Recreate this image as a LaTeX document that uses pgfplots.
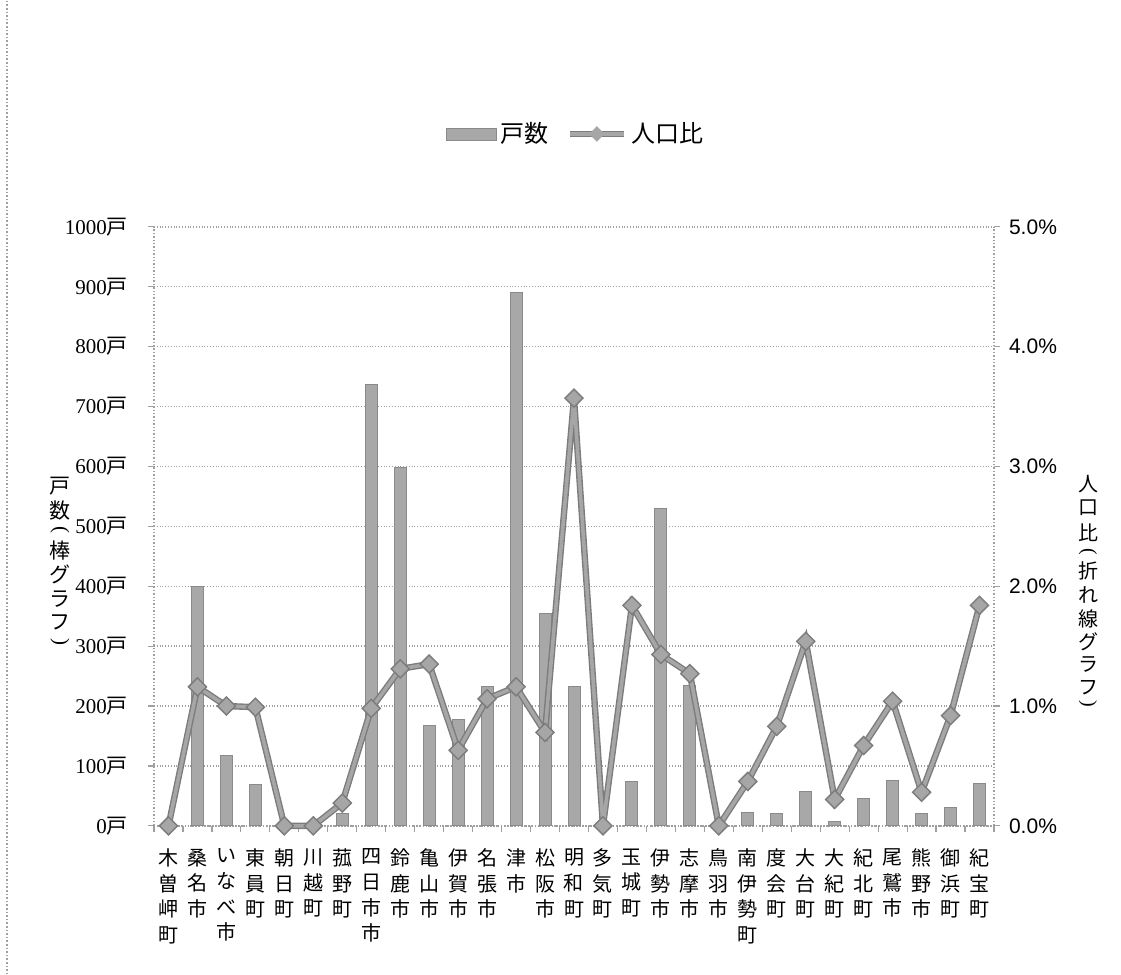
\documentclass[border=0pt]{standalone}
\usepackage{fontspec}
\usepackage{pgfplots}
\usepackage{pgfplotstable}
\pgfplotsset{compat=1.18}
\setmainfont{Liberation Serif}
\newfontfamily\cjk{Noto Sans CJK JP}
\newfontfamily\arial{Liberation Sans}
\definecolor{barfill}{HTML}{A8A8A8}
\definecolor{baredge}{HTML}{8A8A8A}
\definecolor{lineouter}{HTML}{7C7C7C}
\definecolor{lineinner}{HTML}{A6A6A6}
\definecolor{gridc}{HTML}{A0A0A0}
\pgfplotsset{
  barleg/.style={legend image code/.code={\fill[barfill, draw=baredge, line width=0.4pt] (0pt,-3pt) rectangle (25pt,3pt);}},
  lineleg/.style={legend image code/.code={\draw[lineouter, line width=3.2pt] (0pt,0pt) -- (27pt,0pt);
    \draw[mark repeat=2,mark phase=2,##1] plot coordinates {(0pt,0pt)(13.5pt,0pt)(27pt,0pt)};}},
}

\pgfplotstableread{
x bars pct
0 0 0
1 400 1.16
2 118 1.00
3 69 0.99
4 0 0
5 0 0
6 20 0.19
7 737 0.98
8 598 1.31
9 167 1.35
10 177 0.63
11 232 1.06
12 891 1.16
13 354 0.78
14 233 3.57
15 0 0
16 74 1.84
17 529 1.43
18 235 1.27
19 0 0
20 23 0.37
21 21 0.83
22 58 1.54
23 7 0.22
24 46 0.67
25 75 1.04
26 20 0.28
27 30 0.92
28 70 1.84
}\data

\begin{document}
\begin{tikzpicture}[x=1pt,y=1pt]
\path (0,0) rectangle (560.5,-486.5);
\draw[gridc, densely dotted, line width=0.8pt] (3.5,0) -- (3.5,-486.5);
\begin{axis}[
  at={(77pt,-412.5pt)}, anchor=south west,
  scale only axis, width=420pt, height=299.5pt,
  xmin=-0.5, xmax=28.5, ymin=0, ymax=1000,
  axis y line*=left, axis x line*=bottom,
  axis line style={gridc, densely dotted, line width=0.7pt},
  ytick={0,100,...,1000},
  ymajorgrids, major grid style={gridc, densely dotted, line width=0.7pt},
  major tick length=3pt, tick align=outside,
  tick style={gridc, line width=0.6pt},
  /pgf/number format/1000 sep={},
  yticklabel={\pgfmathprintnumber[assume math mode=true]{\tick}{\cjk 戸}},
  yticklabel style={font=\fontsize{10.5}{12}\selectfont, xshift=-6.5pt},
  xtick={0,...,28},
  x tick style={draw=none},
  minor xtick={-0.5,0.5,...,28.5},
  minor tick length=3pt,
  minor x tick style={draw=gridc, line width=0.6pt},
  xticklabels={{木\\曽\\岬\\町},{桑\\名\\市},{い\\な\\べ\\市},{東\\員\\町},{朝\\日\\町},{川\\越\\町},{菰\\野\\町},{四\\日\\市\\市},{鈴\\鹿\\市},{亀\\山\\市},{伊\\賀\\市},{名\\張\\市},{津\\市},{松\\阪\\市},{明\\和\\町},{多\\気\\町},{玉\\城\\町},{伊\\勢\\市},{志\\摩\\市},{鳥\\羽\\市},{南\\伊\\勢\\町},{度\\会\\町},{大\\台\\町},{大\\紀\\町},{紀\\北\\町},{尾\\鷲\\市},{熊\\野\\市},{御\\浜\\町},{紀\\宝\\町}},
  xticklabel style={font=\cjk\fontsize{10}{12.8}\selectfont, align=center, anchor=north, yshift=-5pt},
]
\addplot[ybar, bar width=6pt, fill=barfill, draw=baredge, line width=0.5pt] table[x=x,y=bars]{\data};
\end{axis}
\begin{axis}[
  at={(77pt,-412.5pt)}, anchor=south west,
  scale only axis, width=420pt, height=299.5pt,
  xmin=-0.5, xmax=28.5, ymin=0, ymax=5,
  axis y line*=right, axis x line=none,
  axis line style={gridc, densely dotted, line width=0.7pt},
  ytick={0,1,...,5},
  major tick length=3pt, tick align=outside,
  tick style={gridc, line width=0.6pt},
  yticklabel={\arial\pgfmathprintnumber[fixed,fixed zerofill,precision=1,assume math mode=true]{\tick}\%},
  yticklabel style={font=\fontsize{10.5}{12}\selectfont, xshift=1pt},
  clip=false,
  legend columns=2,
  legend style={at={(0.503,1.155)}, anchor=center, draw=none, fill=none,
    font=\cjk\fontsize{12}{14}\selectfont,
    /tikz/every even column/.append style={column sep=7pt},
    inner sep=0pt},
]
\addlegendimage{barleg}
\addlegendentry{戸数}
\addplot[lineouter, line width=3.2pt, mark=square*, mark size=3.3pt, mark options={rotate=45, fill=lineouter, draw=lineouter, line width=0.5pt}, forget plot] table[x=x,y=pct]{\data};
\addplot[lineinner, line width=1.8pt, mark=square*, mark size=2.6pt, mark options={rotate=45, fill=lineinner, draw=lineinner, line width=0.3pt}, lineleg] table[x=x,y=pct]{\data};
\addlegendentry{人口比}
\end{axis}
\foreach \c/\yy in {戸/485,数/510,棒/550,グ/574,ラ/598,フ/622}
  \node[font=\cjk\fontsize{10.5}{12}\selectfont, inner sep=0pt] at (30, -\yy*0.5) {\c};
\node[font=\fontsize{10.5}{12}\selectfont, inner sep=0pt, rotate=-90] at (30, -264.5) {(};
\node[font=\fontsize{10.5}{12}\selectfont, inner sep=0pt, rotate=-90] at (30, -320.5) {)};
\foreach \c/\yy in {人/483,口/507,比/532,折/570,れ/594,線/618,グ/641,ラ/664,フ/687}
  \node[font=\cjk\fontsize{10}{12}\selectfont, inner sep=0pt] at (544, -\yy*0.5) {\c};
\node[font=\fontsize{10}{12}\selectfont, inner sep=0pt, rotate=-90] at (544, -275.5) {(};
\node[font=\fontsize{10}{12}\selectfont, inner sep=0pt, rotate=-90] at (544, -351.5) {)};
\end{tikzpicture}
\end{document}
